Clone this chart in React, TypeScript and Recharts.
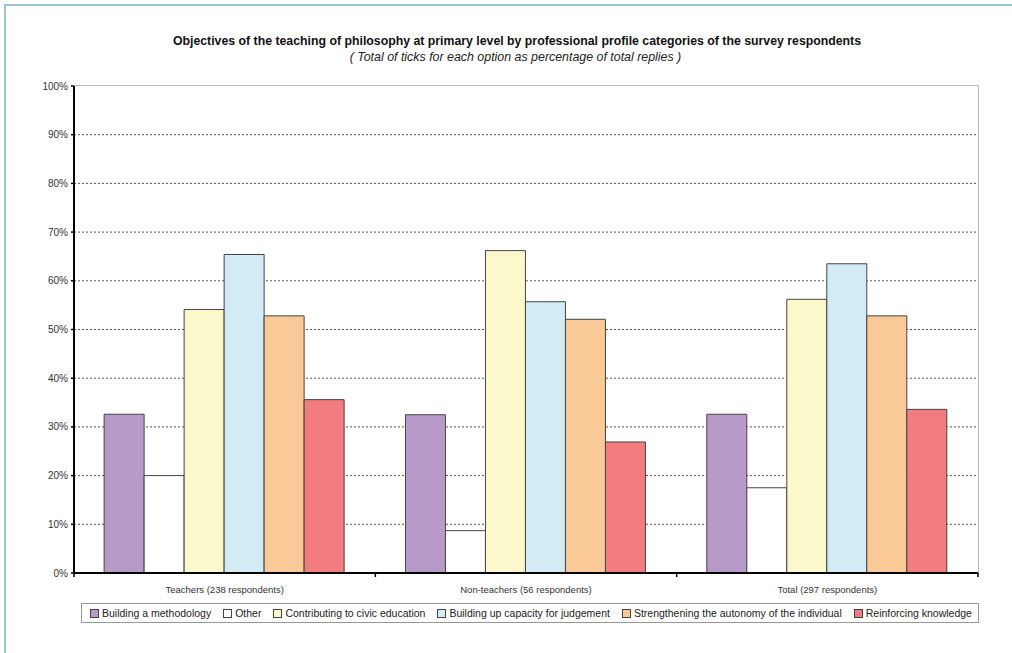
import React from "react";
import { BarChart, Bar, XAxis, YAxis, CartesianGrid } from "recharts";

const categories = [
  "Teachers (238 respondents)",
  "Non-teachers (56 respondents)",
  "Total (297 respondents)",
];
const seriesNames = [
  "Building a methodology",
  "Other",
  "Contributing to civic education",
  "Building up capacity for judgement",
  "Strengthening the autonomy of the individual",
  "Reinforcing knowledge",
];
const methodology = [32.6, 32.5, 32.6];
const other = [20.0, 8.7, 17.5];
const civic = [54.1, 66.2, 56.2];
const judgement = [65.4, 55.7, 63.5];
const autonomy = [52.8, 52.1, 52.8];
const knowledge = [35.6, 26.9, 33.6];
const yTicks = [0, 10, 20, 30, 40, 50, 60, 70, 80, 90, 100];
const boundaryTicks = [0, 1, 2, 3];

const seriesValues = [methodology, other, civic, judgement, autonomy, knowledge];
const seriesKeys = ["s0", "s1", "s2", "s3", "s4", "s5"];
const colors = ["#b89ac8", "#ffffff", "#fbf8cb", "#d3ebf4", "#f9c997", "#f37c7f"];

const data = categories.map((c, i) => {
  const row: Record<string, any> = { name: c, idx: i + 0.5 };
  seriesKeys.forEach((k, j) => (row[k] = seriesValues[j][i]));
  return row;
});

const FONT = "'Liberation Sans', Arial, sans-serif";

export default function App() {
  return (
    <div
      style={{
        position: "fixed",
        left: 0,
        top: 0,
        width: 1012,
        height: 653,
        overflow: "hidden",
        background: "#fff",
        fontFamily: FONT,
      }}
    >
      <div
        style={{
          position: "absolute",
          left: 4,
          top: 4,
          width: 1100,
          height: 700,
          border: "2px solid #9dc4d2",
        }}
      />
      <div
        style={{
          position: "absolute",
          left: 0,
          width: 1034,
          top: 34,
          textAlign: "center",
          fontSize: 12.3,
          fontWeight: "bold",
          color: "#111",
          lineHeight: "14px",
          whiteSpace: "nowrap",
        }}
      >
        Objectives of the teaching of philosophy at primary level by professional profile categories of the survey respondents
      </div>
      <div
        style={{
          position: "absolute",
          left: 0,
          width: 1031,
          top: 50,
          textAlign: "center",
          fontSize: 12.4,
          fontStyle: "italic",
          color: "#222",
          lineHeight: "14px",
          whiteSpace: "nowrap",
        }}
      >
        ( Total of ticks for each option as percentage of total replies )
      </div>
      {/* plot border top/right */}
      <div
        style={{
          position: "absolute",
          left: 74,
          top: 85,
          width: 904,
          height: 488,
          borderTop: "1px solid #b8b8b8",
          borderRight: "1px solid #b8b8b8",
        }}
      />
      <div style={{ position: "absolute", left: 0, top: 0 }}>
        <BarChart
          width={1012}
          height={653}
          data={data}
          margin={{ top: 86, right: 34, bottom: 49, left: 14 }}
          barCategoryGap="10%"
          barGap={0}
        >
          <CartesianGrid
            vertical={false}
            stroke="#555"
            strokeDasharray="2 2"
            horizontalValues={[10, 20, 30, 40, 50, 60, 70, 80, 90]}
          />
          <XAxis
            xAxisId="b"
            type="number"
            dataKey="idx"
            domain={[0, 3]}
            ticks={boundaryTicks}
            tickFormatter={() => ""}
            tickSize={4}
            tickLine={{ stroke: "#000", strokeWidth: 1.5 }}
            axisLine={{ stroke: "#000", strokeWidth: 2 }}
            height={1}
          />
          <XAxis
            xAxisId="c"
            dataKey="name"
            axisLine={false}
            tickLine={false}
            height={30}
            tick={{ fontSize: 9.5, fill: "#333", fontFamily: FONT }}
            tickMargin={6}
          />
          <YAxis
            domain={[0, 100]}
            ticks={yTicks}
            interval={0}
            width={60}
            tickFormatter={(v: number) => `${v}%`}
            tick={{ fontSize: 10, fill: "#333", fontFamily: FONT }}
            tickSize={3}
            tickMargin={3}
            tickLine={{ stroke: "#000", strokeWidth: 1.5 }}
            axisLine={{ stroke: "#000", strokeWidth: 2 }}
          />
          {seriesKeys.map((k, j) => (
            <Bar
              key={k}
              xAxisId="c"
              dataKey={k}
              name={seriesNames[j]}
              fill={colors[j]}
              stroke="#444"
              strokeWidth={1}
              isAnimationActive={false}
            />
          ))}
        </BarChart>
      </div>
      {/* legend */}
      <div
        style={{
          position: "absolute",
          left: 81,
          top: 603,
          width: 898,
          height: 20,
          border: "1px solid #999",
          display: "flex",
          alignItems: "center",
          justifyContent: "space-between",
          paddingLeft: 8,
          paddingRight: 6,
          boxSizing: "border-box",
          fontSize: 10.5,
          color: "#222",
          background: "#fff",
        }}
      >
        {seriesNames.map((n, j) => (
          <div key={n} style={{ display: "flex", alignItems: "center", whiteSpace: "nowrap" }}>
            <span
              style={{
                display: "inline-block",
                width: 7,
                height: 7,
                background: colors[j],
                border: "1px solid #444",
                marginRight: 3,
              }}
            />
            {n}
          </div>
        ))}
      </div>
    </div>
  );
}
